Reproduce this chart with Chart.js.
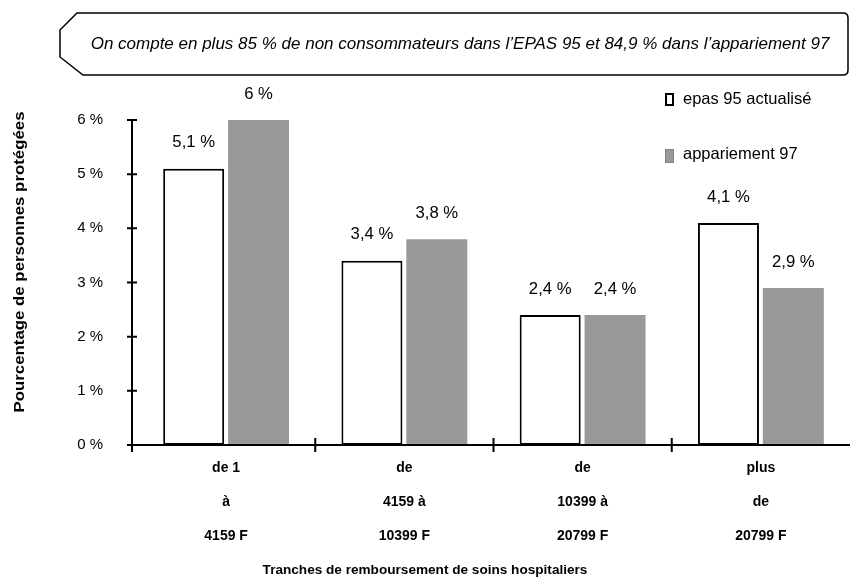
<!DOCTYPE html>
<html>
<head>
<meta charset="utf-8">
<script src="https://cdn.jsdelivr.net/npm/chart.js@4"></script>
<style>
  body { margin: 0; background: #fff; }
  #wrap { width: 850px; height: 578px; position: relative; }
</style>
</head>
<body>
<div id="wrap"><canvas id="chart"></canvas></div>
<script>
const categories = [
    ['de 1', 'à', '4159 F'],
    ['de', '4159 à', '10399 F'],
    ['de', '10399 à', '20799 F'],
    ['plus', 'de', '20799 F']
];
const epas95 = [5.1, 3.4, 2.4, 4.1];
const appariement97 = [6, 3.8, 2.4, 2.9];
const seriesNames = ['epas 95 actualisé', 'appariement 97'];
const yTickValues = [0, 1, 2, 3, 4, 5, 6];
const noteText = 'On compte en plus 85 % de non consommateurs dans l’EPAS 95 et 84,9 % dans l’appariement 97';
const xTitle = 'Tranches de remboursement de soins hospitaliers';
const yTitle = 'Pourcentage de personnes protégées';

const FONT = '"Liberation Sans", Arial, sans-serif';
const GRAY = 'rgb(153, 153, 153)';

function fmt(v) {
    return String(v).replace('.', ',') + ' %';
}

// note box, legend, axes, titles and value labels
const decor = {
    id: 'decor',
    afterDatasetsDraw(chart) {
        const ctx = chart.ctx;
        const x = chart.scales.x, y = chart.scales.y;
        ctx.save();

        // note box with cut corners
        ctx.strokeStyle = '#000';
        ctx.lineWidth = 1.5;
        ctx.beginPath();
        ctx.moveTo(77, 13);
        ctx.lineTo(843, 13);
        ctx.quadraticCurveTo(848, 13, 848, 18);
        ctx.lineTo(848, 70);
        ctx.quadraticCurveTo(848, 75, 843, 75);
        ctx.lineTo(83, 75);
        ctx.lineTo(60, 57);
        ctx.lineTo(60, 30);
        ctx.closePath();
        ctx.stroke();
        ctx.fillStyle = '#000';
        ctx.font = 'italic 17px ' + FONT;
        ctx.textAlign = 'center';
        ctx.textBaseline = 'middle';
        ctx.fillText(noteText, 460, 44);

        // legend
        ctx.lineWidth = 2;
        ctx.strokeStyle = '#000';
        ctx.fillStyle = '#fff';
        ctx.fillRect(666, 94, 7, 11);
        ctx.strokeRect(666, 94, 7, 11);
        ctx.fillStyle = GRAY;
        ctx.fillRect(665, 149, 9, 14);
        ctx.strokeStyle = 'rgb(130,130,130)';
        ctx.lineWidth = 1;
        ctx.strokeRect(665.5, 149.5, 8, 13);
        ctx.fillStyle = '#000';
        ctx.font = '16.5px ' + FONT;
        ctx.textAlign = 'left';
        ctx.fillText(chart.data.datasets[0].label, 683, 99);
        ctx.fillText(chart.data.datasets[1].label, 683, 154);

        // axes
        ctx.strokeStyle = '#000';
        ctx.lineWidth = 2;
        ctx.beginPath();
        ctx.moveTo(132, y.getPixelForValue(6));
        ctx.lineTo(132, y.bottom + 7);
        ctx.moveTo(127, y.bottom);
        ctx.lineTo(850, y.bottom);
        yTickValues.forEach(v => {
            const py = y.getPixelForValue(v);
            ctx.moveTo(127, py);
            ctx.lineTo(137, py);
        });
        for (let i = 1; i < categories.length; i++) {
            const px = (x.getPixelForValue(i - 1) + x.getPixelForValue(i)) / 2;
            ctx.moveTo(px, y.bottom - 7);
            ctx.lineTo(px, y.bottom + 7);
        }
        ctx.stroke();

        // value labels
        ctx.fillStyle = '#000';
        ctx.font = '16.7px ' + FONT;
        ctx.textAlign = 'center';
        ctx.textBaseline = 'middle';
        chart.data.datasets.forEach((ds, di) => {
            chart.getDatasetMeta(di).data.forEach((bar, i) => {
                ctx.fillText(fmt(ds.data[i]), bar.x, bar.y - 26);
            });
        });

        // axis titles
        ctx.font = 'bold 13.6px ' + FONT;
        ctx.fillText(xTitle, 425, 570);
        ctx.save();
        ctx.translate(20, 262);
        ctx.rotate(-Math.PI / 2);
        ctx.font = 'bold 15px ' + FONT;
        const w = ctx.measureText(yTitle).width;
        ctx.scale(301 / w, 1);
        ctx.fillText(yTitle, 0, 0);
        ctx.restore();

        ctx.restore();
    }
};

new Chart(document.getElementById('chart'), {
    type: 'bar',
    data: {
        labels: categories,
        datasets: [{
            label: seriesNames[0],
            data: epas95,
            backgroundColor: '#fff',
            borderColor: '#000',
            borderWidth: 2,
            borderSkipped: false,
            categoryPercentage: 0.728,
            barPercentage: 0.94
        }, {
            label: seriesNames[1],
            data: appariement97,
            backgroundColor: GRAY,
            borderWidth: 0,
            categoryPercentage: 0.728,
            barPercentage: 0.94
        }]
    },
    options: {
        responsive: true,
        maintainAspectRatio: false,
        animation: false,
        events: [],
        layout: { padding: { top: 120, left: 0, right: 0, bottom: 0 } },
        plugins: {
            legend: { display: false },
            tooltip: { enabled: false }
        },
        scales: {
            x: {
                grid: { display: false, drawTicks: false },
                border: { display: false },
                ticks: {
                    color: '#000',
                    padding: 6,
                    maxRotation: 0,
                    font: { family: FONT, size: 14, weight: 'bold', lineHeight: '34px' }
                },
                afterFit: s => { s.height = 133; }
            },
            y: {
                min: 0,
                max: 6,
                grid: { display: false, drawTicks: false },
                border: { display: false },
                afterBuildTicks: s => { s.ticks = yTickValues.map(v => ({ value: v })); },
                ticks: {
                    color: '#000',
                    padding: 34,
                    font: { family: FONT, size: 15 },
                    callback: v => v + ' %'
                },
                afterFit: s => { s.width = 137; }
            }
        }
    },
    plugins: [decor]
});
</script>
</body>
</html>
